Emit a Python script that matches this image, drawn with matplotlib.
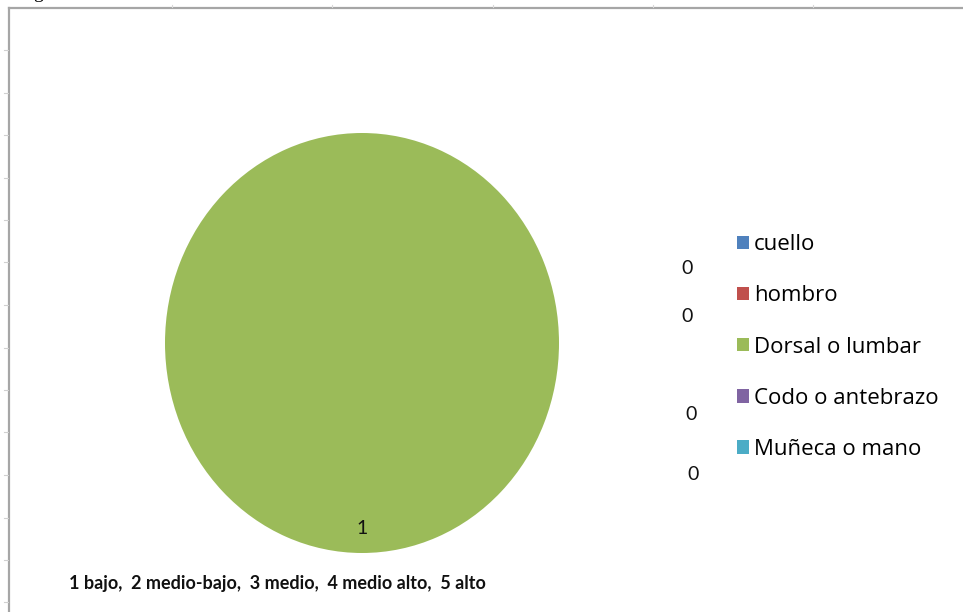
import matplotlib.pyplot as plt
from matplotlib.lines import Line2D

zonas = ["cuello", "hombro", "Dorsal o lumbar", "Codo o antebrazo", "Muñeca o mano"]
valores = [0, 0, 1, 0, 0]
colores = ["#4F81BD", "#C0504D", "#9BBB59", "#8064A2", "#4BACC6"]
nota = "1 bajo,  2 medio-bajo,  3 medio,  4 medio alto,  5 alto"

W, H = 963, 612
fig = plt.figure(figsize=(W / 100, H / 100), dpi=100)
fig.patch.set_facecolor("white")

# fondo: marco del grafico y marcas de celdas
bg = fig.add_axes([0, 0, 1, 1])
bg.set_xlim(0, W)
bg.set_ylim(H, 0)
bg.axis("off")
bg.add_line(Line2D([9, 9], [8, H], color="#a6a6a6", lw=1.6))
bg.add_line(Line2D([9, W], [8, 8], color="#a6a6a6", lw=1.6))
for y in [50, 93, 135, 178, 220, 262, 305, 348, 390, 432, 475, 518, 560, 602]:
    bg.add_line(Line2D([4, 8], [y, y], color="#d0d0d0", lw=0.8))
for x in [172, 332, 493, 653, 813]:
    bg.add_line(Line2D([x, x], [5, 7], color="#d8d8d8", lw=0.8))
bg.text(38, 2, "g", fontsize=14, family="Liberation Serif", va="bottom", ha="center")

# pastel (ligeramente eliptico como en la captura)
cx, cy, rx, ry = 362, 343, 197, 210
ax = fig.add_axes([(cx - rx) / W, 1 - (cy + ry) / H, 2 * rx / W, 2 * ry / H])
wedges, _ = ax.pie(valores, colors=colores, startangle=90, counterclock=False,
                   wedgeprops=dict(linewidth=0))
ax.set_aspect("auto")
ax.set_xlim(-1, 1)
ax.set_ylim(-1, 1)

# capa superior para los textos
top = fig.add_axes([0, 0, 1, 1])
top.set_xlim(0, W)
top.set_ylim(H, 0)
top.axis("off")
top.patch.set_alpha(0)

fuente = "Lato"
# etiquetas de datos
pos_etq = [(687, 268), (687, 317), (362, 529), (691, 415), (693, 475)]
for v, (x, y) in zip(valores, pos_etq):
    top.text(x, y, str(v), fontsize=14, family=fuente, ha="center", va="center", color="#111111")

# leyenda
leg = fig.legend(wedges, zonas, loc="upper left", bbox_to_anchor=(726 / W, 1 - 223 / H),
                 frameon=False, prop=dict(family="Open Sans", size=16),
                 handlelength=0.55, handleheight=0.55, handletextpad=0.22,
                 labelspacing=1.36, borderpad=0)

top.text(277, 583, nota, fontsize=13, family=fuente, fontweight="bold",
         ha="center", va="center", color="#111111")

fig.savefig("out.png", dpi=100, facecolor="white")
